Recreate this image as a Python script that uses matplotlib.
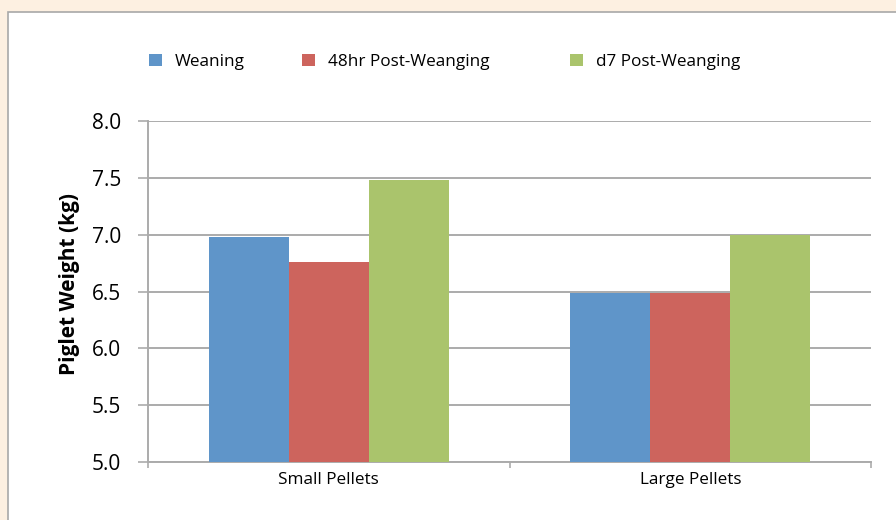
import matplotlib
matplotlib.use("Agg")
import matplotlib.pyplot as plt
from matplotlib.patches import Rectangle, Patch
import numpy as np

categories = ["Small Pellets", "Large Pellets"]
series_names = ["Weaning", "48hr Post-Weanging", "d7 Post-Weanging"]
weaning = [6.98, 6.49]
post_48hr = [6.76, 6.49]
post_d7 = [7.48, 7.00]
y_ticks = [5.0, 5.5, 6.0, 6.5, 7.0, 7.5, 8.0]

colors = ["#5F95C9", "#CD645D", "#AAC46C"]
grid_color = "#ABABAB"

plt.rcParams["font.family"] = ["Open Sans", "DejaVu Sans"]

fig = plt.figure(figsize=(8.96, 5.2), dpi=100)
fig.patch.set_facecolor("#FDF0E1")

# white panel with grey border, kept behind the axes
panel = Rectangle((8 / 896, -0.1), 1.2, 0.1 + 1 - 12 / 520, transform=fig.transFigure,
                  facecolor="white", edgecolor="#A8A8A8", linewidth=1.2, zorder=-10)
fig.patches.append(panel)

ax = fig.add_axes([148 / 896, 1 - 462 / 520, (871 - 148) / 896, (462 - 121) / 520])
ax.set_zorder(1)
ax.set_facecolor("white")

x = np.arange(len(categories))
width = 0.2216
for i, vals in enumerate([weaning, post_48hr, post_d7]):
    ax.bar(x + (i - 1) * width, vals, width=width, color=colors[i], zorder=3,
           label=series_names[i])

ax.set_xlim(-0.5, 1.5)
ax.set_ylim(5.0, 8.0)
ax.set_yticks(y_ticks)
ax.set_yticklabels([f"{v:.1f}" for v in y_ticks], fontsize=15)
ax.yaxis.grid(True, color=grid_color, linewidth=1.4, zorder=0)
ax.tick_params(axis="y", length=7.2, width=1.2, color=grid_color, pad=12)

ax.set_xticks(x)
ax.set_xticklabels(categories, fontsize=12.3)
ax.tick_params(axis="x", which="major", length=0, pad=7)
ax.set_xticks([-0.5, 0.5, 1.5], minor=True)
ax.tick_params(axis="x", which="minor", length=4.3, width=1.2, color=grid_color)
for lbl in ax.get_xticklabels():
    lbl.set_x(lbl.get_position()[0])

for s in ["top", "right"]:
    ax.spines[s].set_visible(False)
for s in ["left", "bottom"]:
    ax.spines[s].set_color(grid_color)
    ax.spines[s].set_linewidth(1.4)

ax.set_ylabel("Piglet Weight (kg)", fontsize=15, fontweight="bold")
ax.yaxis.set_label_coords(-0.094, 0.522)

# legend entries across the top
legend_x = [149 / 896, 302 / 896, 570 / 896]
for i in range(3):
    leg = fig.legend(handles=[Patch(facecolor=colors[i])], labels=[series_names[i]],
                     loc="center left", bbox_to_anchor=(legend_x[i], 1 - 62 / 520),
                     frameon=False, fontsize=12.3, handlelength=0.75, handleheight=0.75,
                     handletextpad=0.75, borderpad=0, borderaxespad=0)

fig.savefig("out.png", dpi=100, facecolor=fig.get_facecolor())
